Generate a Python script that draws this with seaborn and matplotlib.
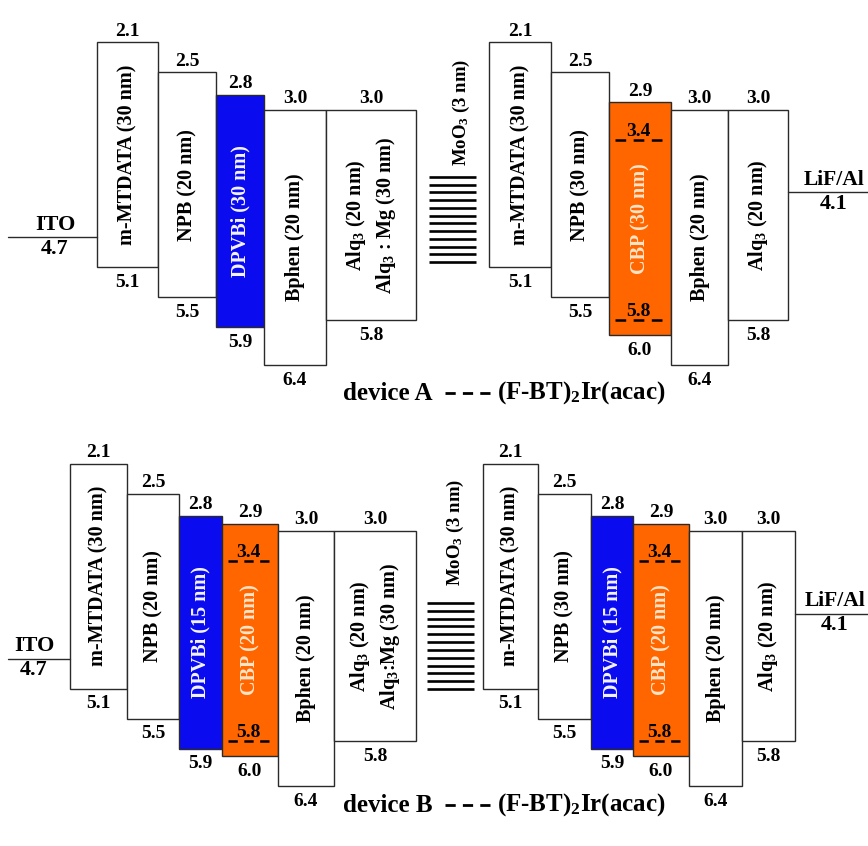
import numpy as np
import matplotlib
matplotlib.use("Agg")
import matplotlib.pyplot as plt
import seaborn as sns

sns.set_theme(style="white")
plt.rcParams['font.family'] = ['Liberation Serif', 'DejaVu Serif']
plt.rcParams['font.weight'] = 'bold'
plt.rcParams['text.color'] = 'black'
plt.rcParams['mathtext.fontset'] = 'custom'
plt.rcParams['mathtext.rm'] = 'Liberation Serif:bold'
plt.rcParams['mathtext.it'] = 'Liberation Serif:bold'
plt.rcParams['mathtext.bf'] = 'Liberation Serif:bold'
plt.rcParams['mathtext.default'] = 'rm'

# ---------------- data ----------------
device_names = ["device A", "device B"]
dopant_name = "(F-BT)$_2$Ir(acac)"
dopant_levels = [3.4, 5.8]
ito_wf = 4.7
cathode_wf = 4.1
interlayer_name = "MoO$_3$ (3 nm)"

a1_names = ["m-MTDATA (30 nm)", "NPB (20 nm)", "DPVBi (30 nm)", "Bphen (20 nm)",
            "Alq$_3$ (20 nm)\nAlq$_3$ : Mg (30 nm)"]
a1_lumo = [2.1, 2.5, 2.8, 3.0, 3.0]
a1_homo = [5.1, 5.5, 5.9, 6.4, 5.8]

a2_names = ["m-MTDATA (30 nm)", "NPB (30 nm)", "CBP (30 nm)", "Bphen (20 nm)", "Alq$_3$ (20 nm)"]
a2_lumo = [2.1, 2.5, 2.9, 3.0, 3.0]
a2_homo = [5.1, 5.5, 6.0, 6.4, 5.8]

b1_names = ["m-MTDATA (30 nm)", "NPB (20 nm)", "DPVBi (15 nm)", "CBP (20 nm)", "Bphen (20 nm)",
            "Alq$_3$ (20 nm)\nAlq$_3$:Mg (30 nm)"]
b1_lumo = [2.1, 2.5, 2.8, 2.9, 3.0, 3.0]
b1_homo = [5.1, 5.5, 5.9, 6.0, 6.4, 5.8]

b2_names = ["m-MTDATA (30 nm)", "NPB (30 nm)", "DPVBi (15 nm)", "CBP (20 nm)", "Bphen (20 nm)",
            "Alq$_3$ (20 nm)"]
b2_lumo = [2.1, 2.5, 2.8, 2.9, 3.0, 3.0]
b2_homo = [5.1, 5.5, 5.9, 6.0, 6.4, 5.8]

# ---------------- layout (pixels) ----------------
W, H = 868, 846
ROW_INTERCEPT = [-115.0, 306.0]   # pixel = intercept + SLOPE * energy
SLOPE = 75.0

A1_EDGES = [97, 158, 216, 264, 326, 416]
A2_EDGES = [489, 551, 609, 671, 728, 788]
B1_EDGES = [70, 127, 179, 222, 278, 334, 416]
B2_EDGES = [483, 538, 591, 633, 689, 742, 795]

ROWS = [
    dict(units=[(A1_EDGES, a1_names, a1_lumo, a1_homo), (A2_EDGES, a2_names, a2_lumo, a2_homo)],
         ito_x=(8, 97), ito_lab=55, lif_x=(788, 868), lif_lab=834,
         moo3_x=(429, 476), moo3_y=(177, 262), moo3_lab=(461, 166),
         dev_xy=(343, 393), dash_x=(445, 490), dop_x=497),
    dict(units=[(B1_EDGES, b1_names, b1_lumo, b1_homo), (B2_EDGES, b2_names, b2_lumo, b2_homo)],
         ito_x=(8, 70), ito_lab=34, lif_x=(795, 868), lif_lab=835,
         moo3_x=(427, 474), moo3_y=(603, 689), moo3_lab=(455, 586),
         dev_xy=(343, 805), dash_x=(445, 490), dop_x=497),
]

BLUE = "#0b0bef"
ORANGE = "#ff6600"
EDGE = "#2a2a2a"
NUM_FS = 14
BOX_FS = 14.5
PX2PT = 72.0 / 100.0

fig = plt.figure(figsize=(W / 100, H / 100), dpi=100)
fig.patch.set_facecolor("white")


def draw_row(ax, row, r):
    icpt = ROW_INTERCEPT[r]
    e_of = lambda py: (py - icpt) / SLOPE
    ax.set_xlim(0, W)
    top_px, bot_px = (0, H / 2) if r == 0 else (H / 2, H)
    ax.set_ylim(e_of(bot_px), e_of(top_px))
    ax.axis("off")

    for edges, names, lumo, homo in row["units"]:
        lefts = edges[:-1]
        widths = np.diff(edges)
        colors = [BLUE if "DPVBi" in n else ORANGE if "CBP" in n else "white" for n in names]
        ax.bar(lefts, np.array(homo) - np.array(lumo), bottom=lumo, width=widths, align="edge",
               color=colors, edgecolor=EDGE, linewidth=1.0, zorder=2)
        for x0, w, n, lu, ho, c in zip(lefts, widths, names, lumo, homo, colors):
            xc = x0 + w / 2
            tcol = "#f4f4ff" if c == BLUE else "#ffe4c8" if c == ORANGE else "black"
            ax.text(xc, (lu + ho) / 2, n, rotation=90, ha="center", va="center",
                    multialignment="center", linespacing=1.4,
                    fontsize=BOX_FS, color=tcol, zorder=4)
            ax.annotate(f"{lu:.1f}", (xc, lu), xytext=(0, 2), textcoords="offset points",
                        ha="center", va="bottom", fontsize=NUM_FS, zorder=4)
            ax.annotate(f"{ho:.1f}", (xc, ho), xytext=(0, -5), textcoords="offset points",
                        ha="center", va="top", fontsize=NUM_FS, zorder=4)
            if c == ORANGE:
                xa, xb = x0 + 6, x0 + w - 9
                lw = 1.8
                d = (xb - xa) / 4.4 * PX2PT
                for lev in dopant_levels:
                    ax.plot([xa, xb], [lev, lev], color="black", lw=lw,
                            dashes=(d / lw, 0.7 * d / lw), zorder=5)
                    ax.annotate(f"{lev:.1f}", ((xa + xb) / 2, lev), xytext=(0, 0),
                                textcoords="offset points", ha="center", va="bottom",
                                fontsize=NUM_FS, zorder=5)

    # electrodes
    sns.lineplot(x=list(row["ito_x"]), y=[ito_wf, ito_wf], ax=ax, color=EDGE, lw=1.0)
    ax.annotate("ITO", (row["ito_lab"], ito_wf), xytext=(0, 2), textcoords="offset points",
                ha="center", va="bottom", fontsize=16)
    ax.annotate(f"{ito_wf:.1f}", (row["ito_lab"], ito_wf), xytext=(0, -1), textcoords="offset points",
                ha="center", va="top", fontsize=16)
    sns.lineplot(x=list(row["lif_x"]), y=[cathode_wf, cathode_wf], ax=ax, color=EDGE, lw=1.0)
    ax.annotate("LiF/Al", (row["lif_lab"], cathode_wf), xytext=(0, 2), textcoords="offset points",
                ha="center", va="bottom", fontsize=15.5)
    ax.annotate(f"{cathode_wf:.1f}", (row["lif_lab"], cathode_wf), xytext=(0, -1),
                textcoords="offset points", ha="center", va="top", fontsize=16)

    # MoO3 interlayer stripes
    ys = [e_of(p) for p in np.linspace(row["moo3_y"][0], row["moo3_y"][1], 12)]
    ax.hlines(ys, row["moo3_x"][0], row["moo3_x"][1], color="black", lw=1.9)
    ax.text(row["moo3_lab"][0], e_of(row["moo3_lab"][1]), interlayer_name, rotation=90,
            ha="center", va="bottom", fontsize=13.5)

    # device label and dopant legend
    dx, dy = row["dev_xy"]
    ax.text(dx, e_of(dy), device_names[r], ha="left", va="center", fontsize=18)
    xa, xb = row["dash_x"]
    lw = 2.0
    d = (xb - xa) / 4.4 * PX2PT
    ax.plot([xa, xb], [e_of(dy), e_of(dy)], color="black", lw=lw, dashes=(d / lw, 0.7 * d / lw))
    ax.text(row["dop_x"], e_of(dy), dopant_name, ha="left", va="center", fontsize=18)


for r, row in enumerate(ROWS):
    ax = fig.add_axes([0, 0.5 if r == 0 else 0.0, 1, 0.5])
    ax.set_facecolor("white")
    draw_row(ax, row, r)

fig.savefig("out.png", dpi=100, facecolor="white")
